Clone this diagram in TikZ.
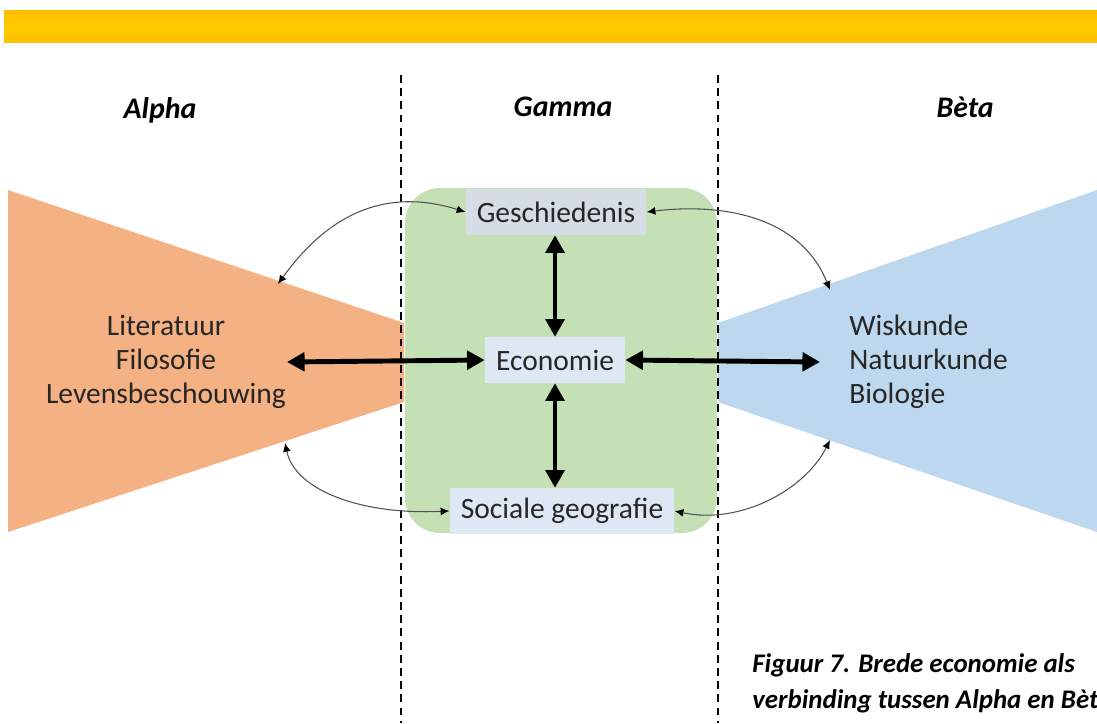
\documentclass[tikz,border=0pt]{standalone}
\usepackage{fontspec}
\setmainfont{Carlito}
\usetikzlibrary{arrows.meta}
\definecolor{barout}{HTML}{FFBE00}
\definecolor{barin}{HTML}{FFCC00}
\definecolor{alphaor}{HTML}{F4B183}
\definecolor{betabl}{HTML}{BDD7EE}
\definecolor{gammagr}{HTML}{C5E0B4}
\definecolor{boxa}{HTML}{D6DCE5}
\definecolor{boxb}{HTML}{DEE8F5}
\definecolor{thinc}{HTML}{505050}
\tikzset{
  subj/.style={inner xsep=6.3pt, inner ysep=0pt, minimum height=26pt, font=\fontsize{16.8}{19}\selectfont, text=black!85},
  sidetext/.style={font=\fontsize{16.8}{19.3}\selectfont, text=black!85, inner sep=0pt},
  head/.style={font=\fontsize{17}{20}\selectfont\bfseries\itshape},
  bigarrow/.style={line width=2.8pt, {Triangle[width=10.5pt,length=10pt]}-{Triangle[width=10.5pt,length=10pt]}},
  thinarrow/.style={line width=0.6pt, thinc, {Latex[length=5pt,width=4.5pt,black]}-{Latex[length=5pt,width=4.5pt,black]}},
  divider/.style={line width=1.1pt, dash pattern=on 4.5pt off 3pt},
  captext/.style={font=\fontsize{15.3}{18}\selectfont\bfseries\itshape, anchor=base west, inner sep=0pt}
}
\begin{document}
\begin{tikzpicture}[x=0.02cm,y=-0.02cm]
\useasboundingbox (0,0) rectangle (1097,723);
\clip (0,0) rectangle (1097,723);
% top bar
\shade[top color=barout, bottom color=barout, middle color=barin] (4,11) rectangle (1097,43);
% wedges
\fill[alphaor] (8,190) -- (404,323) -- (404,402) -- (8,532) -- cycle;
\fill[betabl] (1097,190) -- (718,323) -- (718,402) -- (1097,532) -- cycle;
% gamma area
\fill[gammagr, rounded corners=0.7cm] (405,188) rectangle (717,533);
% dividers
\draw[divider] (401,75) -- (401,723);
\draw[divider] (718,75) -- (718,723);
% headings
\node[head] (alpha) at (160,110) {Alpha};
\node[head] (gamma) at (563,107) {Gamma};
\node[head] (beta) at (965,107) {Bèta};
% subject boxes
\node[subj, fill=boxa] (ges) at (556,212) {Geschiedenis};
\node[subj, fill=boxb] (eco) at (555,360) {Economie};
\node[subj, fill=boxb] (soc) at (562,511) {Sociale geografie};
% side texts
\node[sidetext, align=center] (alphatxt) at (166,362) {Literatuur\\Filosofie\\Levensbeschouwing};
\node[sidetext, align=left, anchor=west] (betatxt) at (849,362) {Wiskunde\\Natuurkunde\\Biologie};
% connector ends
\coordinate (L) at (287,362);
\coordinate (R) at (820,362);
\coordinate (TL) at (278,284);
\coordinate (TR) at (830,290);
\coordinate (BL) at (285,443);
\coordinate (BR) at (830,440);
% thick arrows
\draw[bigarrow] (ges.south -| eco) -- (eco.north);
\draw[bigarrow] (eco.south) -- (eco.south |- soc.north);
\draw[bigarrow] (L) -- (eco.west);
\draw[bigarrow] (eco.east) -- (R);
% thin curved arrows
\draw[thinarrow] (ges.west) .. controls (395,190) and (335,205) .. (TL);
\draw[thinarrow] (ges.east) .. controls (720,203) and (800,215) .. (TR);
\draw[thinarrow] (BL) .. controls (295,490) and (360,515) .. (soc.west);
\draw[thinarrow] (soc.east) .. controls (740,525) and (805,490) .. (BR);
% caption
\node[captext] (cap1) at (752,672) {Figuur 7. Brede economie als};
\node[captext] (cap2) at (752,708) {verbinding tussen Alpha en Bèta};
\end{tikzpicture}
\end{document}
